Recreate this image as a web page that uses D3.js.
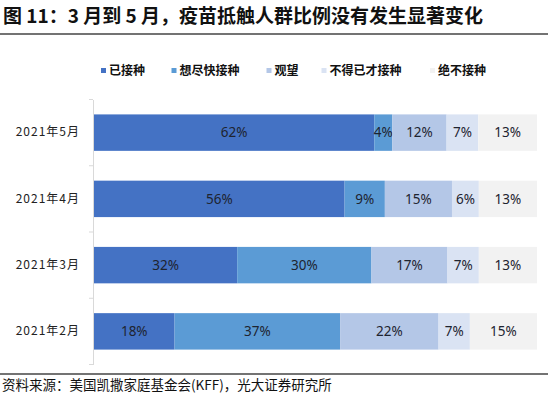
<!DOCTYPE html>
<html><head><meta charset="utf-8">
<script src="https://cdn.jsdelivr.net/npm/d3@7"></script>
<style>
html,body{margin:0;padding:0;background:#fff;}
svg{display:block;}
</style></head>
<body>
<svg id="chart" width="550" height="396"></svg>
<script>
// ---- data ----
const categories = ["2021年5月", "2021年4月", "2021年3月", "2021年2月"];
const seriesNames = ["已接种", "想尽快接种", "观望", "不得已才接种", "绝不接种"];
const vaccinated   = [62, 56, 32, 18];
const asap         = [4, 9, 30, 37];
const waitAndSee   = [12, 15, 17, 22];
const onlyRequired = [7, 6, 7, 7];
const never        = [13, 13, 13, 15];
const colors = ["#4472C4", "#5B9BD5", "#B4C7E7", "#DAE3F3", "#F2F2F2"];

const seriesValues = [vaccinated, asap, waitAndSee, onlyRequired, never];
const rows = categories.map((c, i) => {
  const r = {cat: c};
  seriesNames.forEach((s, j) => r[s] = seriesValues[j][i]);
  return r;
});

const svg = d3.select("#chart");
const font = "'Noto Sans CJK SC', 'Noto Sans', sans-serif";

// title
svg.append("text").attr("x", 3).attr("y", 23)
  .attr("font-family", font).attr("font-weight", "bold").attr("font-size", 19)
  .attr("fill", "#111")
  .text("图 11：3 月到 5 月，疫苗抵触人群比例没有发生显著变化");
svg.append("line").attr("x1", 0).attr("x2", 548).attr("y1", 34).attr("y2", 34)
  .attr("stroke", "#444").attr("stroke-width", 1.5);

// scales
const x = d3.scaleLinear().domain([0, 1]).range([94, 537]);
const y = d3.scaleBand().domain(categories).range([99.5, 364.5])
  .paddingInner(0.45).paddingOuter(0.225);

const stack = d3.stack().keys(seriesNames).offset(d3.stackOffsetExpand);
const stacked = stack(rows);

const g = svg.append("g");
stacked.forEach((layer, j) => {
  const lg = g.append("g").attr("fill", colors[j]);
  lg.selectAll("rect").data(layer).join("rect")
    .attr("x", d => x(d[0]))
    .attr("width", d => x(d[1]) - x(d[0]))
    .attr("y", d => y(d.data.cat))
    .attr("height", y.bandwidth());
  g.append("g").selectAll("text").data(layer).join("text")
    .attr("x", d => (x(d[0]) + x(d[1])) / 2)
    .attr("y", d => y(d.data.cat) + y.bandwidth() / 2)
    .attr("dy", "0.35em")
    .attr("text-anchor", "middle")
    .attr("font-family", "'Noto Sans', sans-serif")
    .attr("font-size", 13.5)
    .attr("fill", "#1e2430")
    .text(d => d.data[layer.key] + "%");
});

// y axis
const axis = svg.append("g").attr("transform", "translate(93,0)")
  .call(d3.axisLeft(y).tickSize(0).tickPadding(13));
axis.select(".domain").attr("stroke", "#d9d9d9");
axis.selectAll("text")
  .attr("font-family", font).attr("font-size", 12)
  .attr("fill", "#222").attr("letter-spacing", "1px");
// boundary ticks
const step = y.step();
const bounds = categories.map(c => y(c) - step * y.paddingInner() / 2);
bounds.push(y(categories[categories.length - 1]) + y.bandwidth() + step * y.paddingInner() / 2);
axis.selectAll(".bt").data(bounds).join("line").attr("class", "bt")
  .attr("x1", -4).attr("x2", 0).attr("y1", d => d).attr("y2", d => d)
  .attr("stroke", "#d9d9d9");

// legend
const legendX = [101, 171.5, 266.5, 321.5, 430];
const leg = svg.append("g");
seriesNames.forEach((s, j) => {
  leg.append("rect").attr("x", legendX[j]).attr("y", 68).attr("width", 5).attr("height", 5)
    .attr("fill", colors[j]);
  leg.append("text").attr("x", legendX[j] + 8).attr("y", 70.5).attr("dy", "0.36em")
    .attr("font-family", font).attr("font-weight", "bold").attr("font-size", 12)
    .attr("fill", "#111").text(s);
});

// source
svg.append("line").attr("x1", 0).attr("x2", 548).attr("y1", 374).attr("y2", 374)
  .attr("stroke", "#444").attr("stroke-width", 1.5);
svg.append("text").attr("x", 2).attr("y", 390)
  .attr("font-family", font).attr("font-size", 13.5).attr("fill", "#111")
  .text("资料来源：美国凯撒家庭基金会(KFF)，光大证券研究所");
</script>
</body></html>
